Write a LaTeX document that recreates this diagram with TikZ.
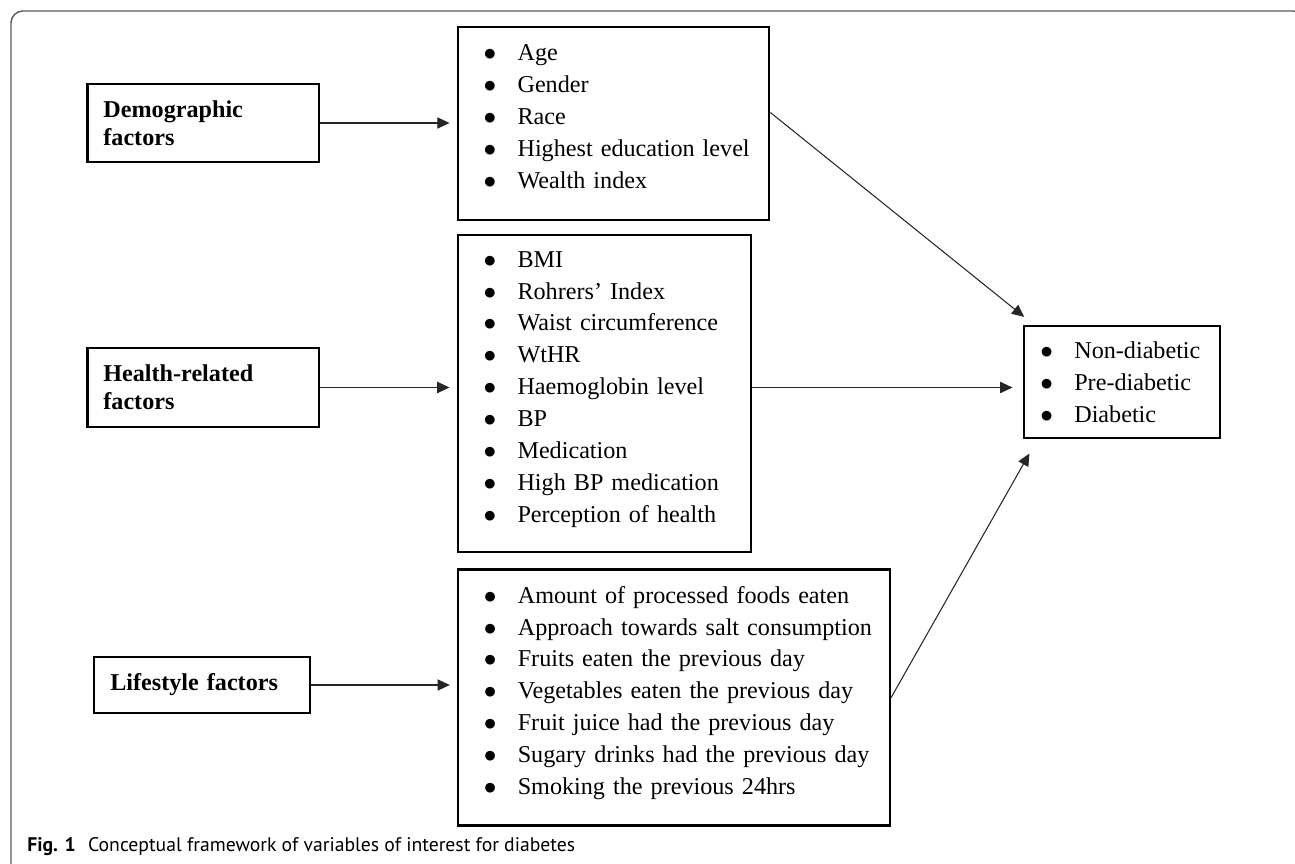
\documentclass[tikz,border=0pt]{standalone}
\usepackage{fontspec}
\setmainfont{Liberation Serif}
\newfontfamily\capfont{PT Sans}
\usetikzlibrary{arrows.meta}

\newlength\bulgap
\newcommand\bl{\hspace*{\bulgap}\rule[-8.2pt]{0pt}{17.7pt}\makebox[19.3pt][l]{$\bullet$}}

\begin{document}
\begin{tikzpicture}[
x=0.02cm,y=-0.02cm,
flow/.style={-{Triangle[length=7pt,width=6.4pt]},line width=0.6pt,draw=black!85},
factor/.style={draw,line width=1.2pt,align=left,inner xsep=9.07pt,minimum height=44.5pt,font=\fontsize{13.75pt}{15.9pt}\selectfont\bfseries},
items/.style={draw,line width=1.2pt,align=left,inner xsep=4pt,font=\fontsize{13.75pt}{18.14pt}\selectfont,
  execute at begin node={\setlength\bulgap{10.8pt}}},
frame/.style={draw=black!65,line width=0.8pt,rounded corners=6.8pt}
]
\clip (0,0) rectangle (1295,864);
\draw[frame] (11,880) -- (11,11) -- (1305,11) -- (1305,880);

\node[factor,text width=113.4pt] (demo) at (203,123) {Demographic\\factors};
\node[factor,text width=113.4pt,minimum height=44.8pt] (health) at (203,387.5) {Health-related\\factors};
\node[factor,text width=104.4pt,minimum height=31.7pt] (life) at (202,685) {Lifestyle factors};

\node[items,text width=169.4pt,minimum height=109.4pt] (demoList) at (613.5,123.5)
{\bl Age\\\bl Gender\\\bl Race\\\bl Highest education level\\\bl Wealth index};
\node[items,text width=159.2pt,minimum height=180.8pt] (healthList) at (604.5,393.5)
{\bl BMI\\\bl Rohrers' Index\\\bl Waist circumference\\\bl WtHR\\\bl Haemoglobin level\\\bl BP\\\bl Medication\\\bl High BP medication\\\bl Perception of health};
\node[items,text width=238pt,minimum height=145.7pt] (lifeList) at (674,697.5)
{\bl Amount of processed foods eaten\\\bl Approach towards salt consumption\\\bl Fruits eaten the previous day\\\bl Vegetables eaten the previous day\\\bl Fruit juice had the previous day\\\bl Sugary drinks had the previous day\\\bl Smoking the previous 24hrs};
\node[items,text width=103.1pt,inner ysep=0pt,minimum height=63.5pt,execute at begin node={\setlength\bulgap{5.1pt}}] (outcome) at (1122,382)
{\rule{0pt}{17.9pt}\bl Non-diabetic\\\bl Pre-diabetic\\\bl Diabetic};

\draw[flow,shorten >=4pt] (demo.east) -- (demo.east -| demoList.west);
\draw[flow,shorten >=4pt] (health.east) -- (health.east -| healthList.west);
\draw[flow,shorten >=4pt] (life.east) -- (life.east -| lifeList.west);
\draw[flow,shorten >=6.2pt] (health.east -| healthList.east) -- (health.east -| outcome.west);
\draw[flow,shorten >=7.5pt] (demoList.4) -- (outcome.147);
\draw[flow,shorten >=9.6pt] (lifeList.east) -- (outcome.214);

% caption sits under the frame content, left aligned
\node[anchor=base west,inner sep=0,font=\capfont\fontsize{11.2pt}{13pt}\selectfont] (caption) at (27,851)
{\textbf{Fig. 1}\hspace{7pt}Conceptual framework of variables of interest for diabetes};
\end{tikzpicture}
\end{document}
